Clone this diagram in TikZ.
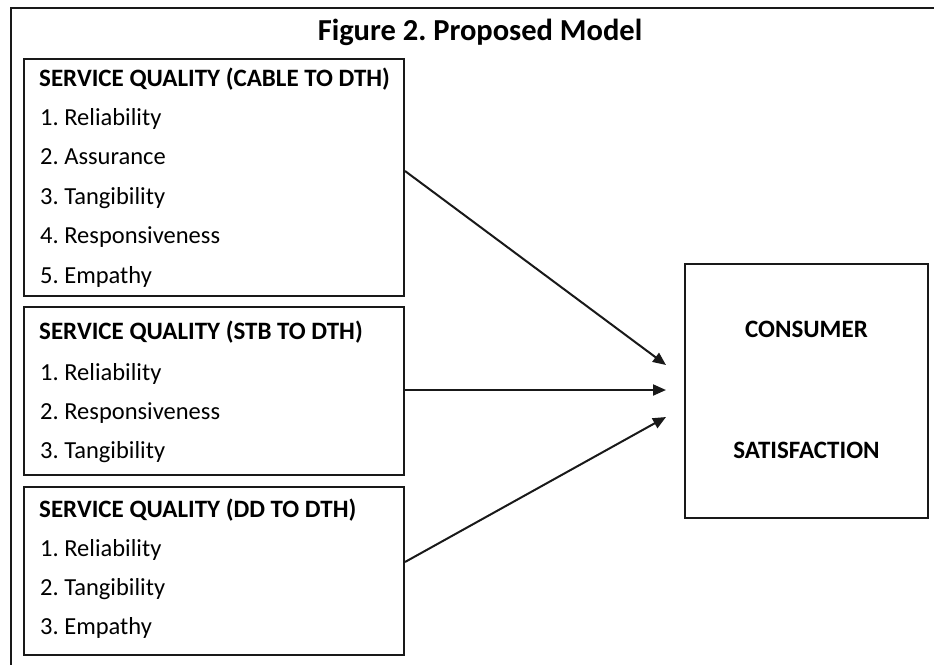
\documentclass[tikz,border=0pt]{standalone}
\usepackage{fontspec}
\setmainfont{Carlito}
\usepackage{tikz}
\usetikzlibrary{arrows.meta, positioning}
\frenchspacing

\begin{document}
\begin{tikzpicture}[
    x=1pt, y=-1pt,
    box/.style={draw=black!90, line width=2pt, minimum width=380pt,
                inner sep=0pt},
    head/.style={anchor=base west, inner sep=0pt, font=\fontsize{25}{28}\selectfont\bfseries},
    item/.style={anchor=base west, inner sep=0pt, font=\fontsize{24.5}{28}\selectfont},
    arr/.style={-{Triangle[length=13pt,width=11pt]}, line width=2pt, draw=black!90},
]
\useasboundingbox (0,0) rectangle (934,665);

%% Marco exterior (solo arriba e izquierda)
\draw[line width=2pt, black!90] (934,8) -- (11,8) -- (11,665);
\node[anchor=base, inner sep=0pt, font=\fontsize{30.5}{34}\selectfont\bfseries]
    at (480,40) (titulo) {Figure 2. Proposed Model};

%% Cajas de calidad de servicio
\node[box, minimum height=237pt] at (214,177.5) (cable) {};
\node[box, minimum height=168pt] at (214,391)   (stb)   {};
\node[box, minimum height=168pt] at (214,571)   (dd)    {};
\node[box, minimum width=243pt, minimum height=254pt] at (806.5,391) (cs) {};

%% Textos
\node[head] at (39,86)  (cableh) {SERVICE QUALITY (CABLE TO DTH)};
\foreach \t/\y [count=\i] in {Reliability/125, Assurance/164.5, Tangibility/204,
                              Responsiveness/243.5, Empathy/283}
    \node[item] at (40,\y) (cable\i) {\i. \t};

\node[head] at (39,339) (stbh) {SERVICE QUALITY (STB TO DTH)};
\foreach \t/\y [count=\i] in {Reliability/380, Responsiveness/419, Tangibility/458}
    \node[item] at (40,\y) (stb\i) {\i. \t};

\node[head] at (39,517) (ddh) {SERVICE QUALITY (DD TO DTH)};
\foreach \t/\y [count=\i] in {Reliability/556, Tangibility/595, Empathy/634}
    \node[item] at (40,\y) (dd\i) {\i. \t};

\node[head, anchor=base] at (806.5,337) (csa) {CONSUMER};
\node[head, anchor=base] at (806.5,458) (csb) {SATISFACTION};

%% Flechas
\coordinate (t1) at (666,365);
\coordinate (t2) at (666,390);
\coordinate (t3) at (666,417);
\draw[arr] ([yshift=6.5pt]cable.east) -- (t1);
\draw[arr] ([yshift=1pt]stb.east) -- (t2);
\draw[arr] ([yshift=9pt]dd.east) -- (t3);
\end{tikzpicture}
\end{document}
